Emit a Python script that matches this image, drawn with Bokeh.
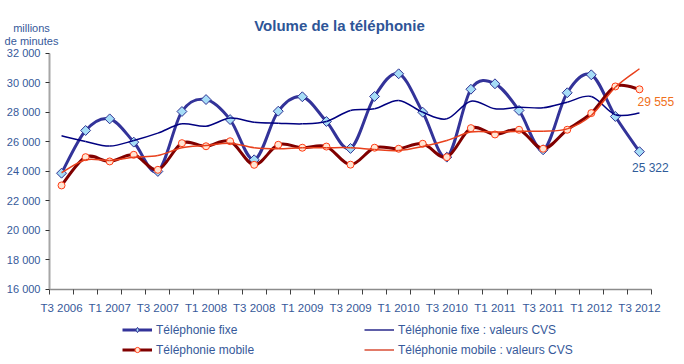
import math
from bokeh.plotting import figure
from bokeh.models import (FixedTicker, Label, Legend, LegendItem, ColumnDataSource, Range1d)
from bokeh.embed import file_html
from bokeh.resources import INLINE

quarters = ["T3 2006", "T4 2006", "T1 2007", "T2 2007", "T3 2007", "T4 2007",
            "T1 2008", "T2 2008", "T3 2008", "T4 2008", "T1 2009", "T2 2009",
            "T3 2009", "T4 2009", "T1 2010", "T2 2010", "T3 2010", "T4 2010",
            "T1 2011", "T2 2011", "T3 2011", "T4 2011", "T1 2012", "T2 2012",
            "T3 2012"]

fixe = [23860, 26760, 27550, 25970, 23980, 28050, 28860, 27500, 24770, 28070,
        29050, 27370, 25540, 29070, 30610, 28000, 24950, 29560, 29930, 28120,
        25450, 29320, 30540, 27710, 25322]
fixe_cvs = [26400, 26010, 25700, 26080, 26580, 27210, 27050, 27600, 27320, 27260,
            27210, 27370, 28120, 28230, 28800, 28000, 27550, 28750, 28230, 28340,
            28300, 28680, 29070, 27830, 27940]
mobile = [23030, 24950, 24660, 25110, 24090, 25900, 25690, 26030, 24430, 25790,
          25590, 25670, 24440, 25590, 25520, 25860, 24950, 26920, 26490, 26810,
          25520, 26810, 27940, 29750, 29555]
mobile_cvs = [23890, 24770, 24720, 24950, 25060, 25590, 25740, 25900, 25590, 25520,
              25590, 25590, 25590, 25470, 25400, 25670, 26080, 26650, 26650, 26710,
              26710, 26870, 27780, 29700, 30950]

y_ticks = [16000, 18000, 20000, 22000, 24000, 26000, 28000, 30000, 32000]
y_tick_labels = ["16 000", "18 000", "20 000", "22 000", "24 000", "26 000",
                 "28 000", "30 000", "32 000"]

title_text = "Volume de la téléphonie"
unit_lines = ["millions", "de minutes"]
series_names = ["Téléphonie fixe", "Téléphonie mobile",
                "Téléphonie fixe : valeurs CVS", "Téléphonie mobile : valeurs CVS"]

FONT = "Liberation Sans"
TXT = "#36599A"
W, H = 684, 364

# plotting box inside the canvas (pixels): left, right, top, bottom
BOX_L, BOX_R, BOX_T, BOX_B = 49, 651, 52.8, 288.5

C_FIXE = "#333399"
C_FIXE_CVS = "#000080"
C_MOB = "#800000"
C_MOB_CVS = "#E8401C"
F_DIAM = "#A6DDF7"
E_DIAM = "#2E3192"
F_CIRC = "#FFE6D5"
E_CIRC = "#FF3C14"

n = len(quarters)
xs = list(range(n))


def smooth_source(x, y):
    """Bezier segments (Catmull-Rom style smoothing, like Excel's smoothed lines)."""
    m = len(x)
    d = dict(x0=[], y0=[], x1=[], y1=[], cx0=[], cy0=[], cx1=[], cy1=[])
    for i in range(m - 1):
        xp, yp = (x[i - 1], y[i - 1]) if i > 0 else (x[i], y[i])
        xn, yn = (x[i + 2], y[i + 2]) if i + 2 < m else (x[i + 1], y[i + 1])
        d["x0"].append(x[i]); d["y0"].append(y[i])
        d["x1"].append(x[i + 1]); d["y1"].append(y[i + 1])
        d["cx0"].append(x[i] + (x[i + 1] - xp) / 6.0)
        d["cy0"].append(y[i] + (y[i + 1] - yp) / 6.0)
        d["cx1"].append(x[i + 1] - (xn - x[i]) / 6.0)
        d["cy1"].append(y[i + 1] - (yn - y[i]) / 6.0)
    return ColumnDataSource(d)


# ranges chosen so that the frame covers the whole canvas and the
# category axis / value axis land inside the plotting box
x_lo, x_hi = -0.5, n - 0.5
ppx = (BOX_R - BOX_L) / (x_hi - x_lo)
y_lo, y_hi = y_ticks[0], y_ticks[-1]
ppy = (BOX_B - BOX_T) / (y_hi - y_lo)
x_range = Range1d(x_lo - BOX_L / ppx, x_hi + (W - BOX_R) / ppx)
y_range = Range1d(y_lo - (H - BOX_B) / ppy, y_hi + BOX_T / ppy)

p = figure(width=W, height=H, output_backend="svg", toolbar_location=None,
           x_range=x_range, y_range=y_range,
           min_border_left=0, min_border_right=0, min_border_top=0, min_border_bottom=0)
p.outline_line_color = None
p.background_fill_color = "white"
p.border_fill_color = "white"
p.grid.visible = False

p.xaxis.fixed_location = y_lo
p.xaxis.bounds = (x_lo, x_hi)
p.xaxis.ticker = FixedTicker(ticks=xs[::2], minor_ticks=[i - 0.5 for i in range(n + 1)])
p.xaxis.major_label_overrides = {i: quarters[i] for i in xs[::2]}
p.xaxis.major_tick_out = 0
p.xaxis.major_tick_in = 0
p.xaxis.minor_tick_out = 5
p.xaxis.minor_tick_in = 0
p.xaxis.minor_tick_line_color = "#404040"
p.xaxis.axis_line_color = "#8C8C8C"
p.xaxis.axis_line_width = 1.5
p.xaxis.major_label_text_font = FONT
p.xaxis.major_label_text_font_size = "11.5px"
p.xaxis.major_label_text_color = TXT
p.xaxis.major_label_standoff = 8

p.yaxis.fixed_location = x_lo
p.yaxis.bounds = (y_lo, y_hi)
p.yaxis.ticker = FixedTicker(ticks=y_ticks)
p.yaxis.major_label_overrides = {t: l for t, l in zip(y_ticks, y_tick_labels)}
p.yaxis.major_tick_out = 4
p.yaxis.major_tick_in = 0
p.yaxis.minor_tick_out = 0
p.yaxis.minor_tick_in = 0
p.yaxis.major_tick_line_color = "#303030"
p.yaxis.axis_line_color = "#A6A6A6"
p.yaxis.axis_line_width = 2
p.yaxis.major_label_text_font = FONT
p.yaxis.major_label_text_font_size = "11px"
p.yaxis.major_label_text_color = TXT
p.yaxis.major_label_standoff = 5

bz = dict(x0="x0", y0="y0", x1="x1", y1="y1", cx0="cx0", cy0="cy0", cx1="cx1", cy1="cy1")
p.bezier(source=smooth_source(xs, fixe), line_color=C_FIXE, line_width=3, **bz)
p.scatter(xs, fixe, marker="square", angle=math.pi / 4, size=7,
          fill_color=F_DIAM, line_color=E_DIAM, line_width=1)
p.bezier(source=smooth_source(xs, fixe_cvs), line_color=C_FIXE_CVS, line_width=1.5, **bz)
p.bezier(source=smooth_source(xs, mobile), line_color=C_MOB, line_width=3, **bz)
p.scatter(xs, mobile, marker="circle", size=7, fill_color=F_CIRC,
          line_color=E_CIRC, line_width=1)
p.bezier(source=smooth_source(xs, mobile_cvs), line_color=C_MOB_CVS, line_width=1.5, **bz)

# end-of-series value labels
p.add_layout(Label(x=xs[-1], y=mobile[-1], text=f"{mobile[-1]:,}".replace(",", " "),
                   x_offset=-2, y_offset=-12.5, text_align="left", text_baseline="middle",
                   text_font=FONT, text_font_size="12px", text_color="#F07020"))
p.add_layout(Label(x=xs[-1], y=fixe[-1], text=f"{fixe[-1]:,}".replace(",", " "),
                   x_offset=-7.5, y_offset=-16, text_align="left", text_baseline="middle",
                   text_font=FONT, text_font_size="12px", text_color="#2F5C9A"))

# title and unit (screen units measured from the canvas bottom-left)
p.add_layout(Label(x=339, y=H - 25, x_units="screen", y_units="screen", text=title_text,
                   text_align="center", text_baseline="middle", text_font=FONT,
                   text_font_size="15px", text_font_style="bold", text_color="#2E5597"))
for k, line in enumerate(unit_lines):
    p.add_layout(Label(x=31, y=H - 27 - 13 * k, x_units="screen", y_units="screen", text=line,
                       text_align="center", text_baseline="middle", text_font=FONT,
                       text_font_size="11px", text_color=TXT))

# legend proxies (single NaN point: draws nothing on the chart)
nan = float("nan")
lf = p.line(x=[nan], y=[nan], line_color=C_FIXE, line_width=3)
mf = p.scatter(x=[nan], y=[nan], marker="diamond", size=9, fill_color=F_DIAM,
               line_color=E_DIAM, line_width=1)
lm = p.line(x=[nan], y=[nan], line_color=C_MOB, line_width=3)
mm = p.scatter(x=[nan], y=[nan], marker="circle", size=6, fill_color=F_CIRC,
               line_color=E_CIRC, line_width=1)
lfc = p.line(x=[nan], y=[nan], line_color="#5E5EA8", line_width=2)
lmc = p.line(x=[nan], y=[nan], line_color="#E27A68", line_width=2)

legend = Legend(items=[
    LegendItem(label=series_names[0], renderers=[lf, mf]),
    LegendItem(label=series_names[1], renderers=[lm, mm]),
    LegendItem(label=series_names[2], renderers=[lfc]),
    LegendItem(label=series_names[3], renderers=[lmc]),
], location=(122, 7.5), orientation="vertical", nrows=2, ncols=2,
    glyph_width=30, glyph_height=13, label_height=13, label_standoff=4,
    label_width=202, spacing=6, padding=0, margin=0,
    border_line_color=None, background_fill_alpha=0,
    label_text_font=FONT, label_text_font_size="12px", label_text_color=TXT)
p.add_layout(legend, "center")

open("out.html", "w").write(file_html(p, INLINE))
